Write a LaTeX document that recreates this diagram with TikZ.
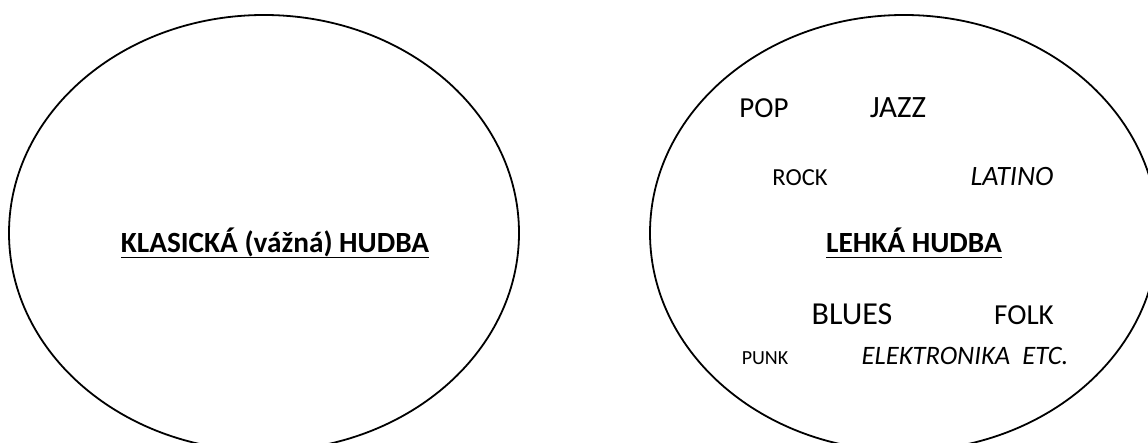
\documentclass[tikz,border=0pt]{standalone}
\usepackage{fontspec}
\setmainfont{Carlito}
\begin{document}
\begin{tikzpicture}[x=1pt,y=-1pt,
  oval/.style={draw=black,line width=1.8pt},
  uline/.style={draw=black,line width=1.7pt},
  lbl/.style={anchor=base,inner sep=0pt,outer sep=0pt},
  head/.style={lbl,font=\fontsize{29.3}{34}\selectfont\bfseries},
  big/.style={lbl,font=\fontsize{29}{34}\selectfont},
  mid/.style={lbl,font=\fontsize{24.5}{28}\selectfont},
  small/.style={lbl,font=\fontsize{20}{24}\selectfont},
  ital/.style={lbl,font=\fontsize{28}{33}\selectfont\itshape}]
\useasboundingbox (0,0) rectangle (1148,443);
\begin{scope}
\clip (0,0) rectangle (1148,443);
\draw[oval] (264,233) ellipse [x radius=255, y radius=218];
\draw[oval] (904,233) ellipse [x radius=254, y radius=218];
\end{scope}
\node[head] (klas) at (275,253) {KLASICKÁ (vážná) HUDBA};
\draw[uline] ([yshift=-4.5pt]klas.base west) -- ([yshift=-4.5pt]klas.base east);
\node[big] (pop) at (764,118) {POP};
\node[big,font=\fontsize{31}{36}\selectfont] (jazz) at (898,118) {JAZZ};
\node[mid] (rock) at (800,186) {ROCK};
\node[ital] (latino) at (1012,186) {LATINO};
\node[head] (lehka) at (914,253) {LEHKÁ HUDBA};
\draw[uline] ([yshift=-4.5pt]lehka.base west) -- ([yshift=-4.5pt]lehka.base east);
\node[big,font=\fontsize{32}{37}\selectfont] (blues) at (852,325) {BLUES};
\node[big] (folk) at (1024,325) {FOLK};
\node[small] (punk) at (765,365) {PUNK};
\node[ital,font=\fontsize{26.6}{31}\selectfont\itshape] (elek) at (965,365) {ELEKTRONIKA\ \ ETC.};
\end{tikzpicture}
\end{document}
